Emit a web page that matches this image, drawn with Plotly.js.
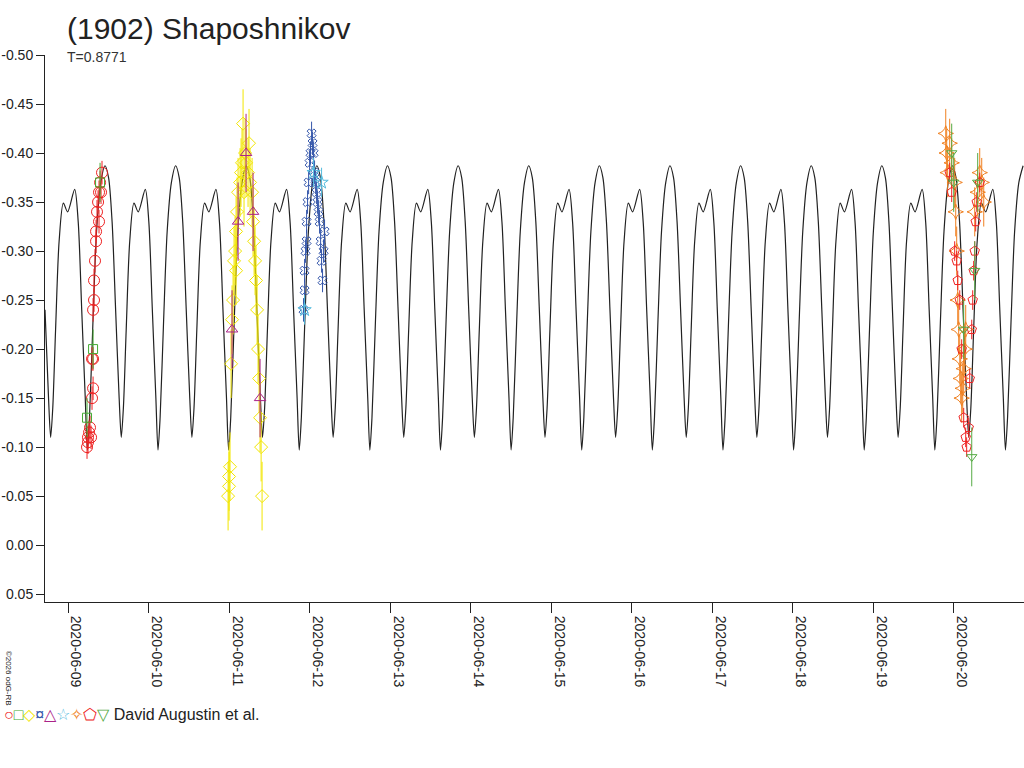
<!DOCTYPE html>
<html>
<head>
<meta charset="utf-8">
<script src="https://cdn.plot.ly/plotly-3.0.1.min.js"></script>
<style>body{margin:0;background:#fff}#chart{width:1024px;height:768px}</style>
</head>
<body>
<div id="chart"></div>
<script>
// model curve: one period shape, phase 0 = big maximum
var period = 0.8771;          // days
var epoch = 13.845;           // day of June 2020 of a big maximum
var shapePhase = [0, 0.05, 0.1, 0.15, 0.2, 0.23, 0.26, 0.3, 0.35, 0.41, 0.47, 0.57, 0.62, 0.67, 0.72, 0.75, 0.78, 0.83, 0.88, 0.94];
var shapeMag = [-0.387, -0.375, -0.33, -0.24, -0.15, -0.11, -0.14, -0.22, -0.31, -0.349, -0.340, -0.363, -0.33, -0.24, -0.15, -0.097, -0.13, -0.23, -0.32, -0.37];
var curveStart = 8.70, curveEnd = 20.90;

// observations: day of June 2020, magnitude
var redT = [9.236, 9.248, 9.261, 9.273, 9.248, 9.286, 9.298, 9.311, 9.298, 9.311, 9.311, 9.323, 9.323, 9.335, 9.348, 9.348, 9.360, 9.373, 9.385, 9.398, 9.410, 9.422, 9.385];
var redM = [-0.10, -0.11, -0.115, -0.12, -0.105, -0.11, -0.15, -0.16, -0.19, -0.19, -0.24, -0.25, -0.27, -0.29, -0.31, -0.32, -0.34, -0.35, -0.36, -0.37, -0.36, -0.38, -0.33];
var greenT = [9.236, 9.311, 9.398];
var greenM = [-0.13, -0.20, -0.37];
var yelT = [10.988, 11.0, 11.0, 11.012, 11.025, 11.037, 11.050, 11.062, 11.075, 11.087, 11.099, 11.112, 11.137, 11.149, 11.161, 11.174, 11.199, 11.211, 11.236, 11.248, 11.261, 11.286, 11.298, 11.311, 11.323, 11.335, 11.348, 11.360, 11.373, 11.385, 11.398, 11.410, 11.087, 11.186];
var yelM = [-0.05, -0.06, -0.07, -0.08, -0.185, -0.23, -0.25, -0.29, -0.30, -0.32, -0.34, -0.36, -0.37, -0.38, -0.39, -0.43, -0.40, -0.39, -0.38, -0.41, -0.37, -0.36, -0.33, -0.31, -0.29, -0.27, -0.24, -0.20, -0.17, -0.13, -0.10, -0.05, -0.28, -0.36];
var magT = [11.037, 11.112, 11.211, 11.298, 11.385];
var magM = [-0.22, -0.33, -0.40, -0.34, -0.15];
var blueT = [11.925, 11.938, 11.938, 11.950, 11.963, 11.963, 11.975, 11.988, 12.0, 12.012, 12.025, 12.037, 12.050, 12.062, 12.075, 12.087, 12.099, 12.112, 12.124, 12.137, 12.149, 12.161, 12.174, 12.186];
var blueM = [-0.24, -0.26, -0.28, -0.30, -0.31, -0.33, -0.35, -0.37, -0.39, -0.40, -0.42, -0.41, -0.40, -0.38, -0.37, -0.36, -0.35, -0.34, -0.33, -0.31, -0.29, -0.27, -0.30, -0.32];
var cyanT = [11.938, 12.050, 12.149];
var cyanM = [-0.24, -0.38, -0.37];
var orT = [19.901, 19.913, 19.925, 19.950, 19.975, 20.012, 20.025, 20.037, 20.050, 20.062, 20.075, 20.087, 20.099, 20.112, 20.124, 20.137, 20.149, 20.261, 20.298, 20.323, 20.348, 20.373];
var orM = [-0.42, -0.40, -0.38, -0.41, -0.39, -0.37, -0.34, -0.30, -0.25, -0.22, -0.19, -0.17, -0.15, -0.16, -0.18, -0.20, -0.22, -0.34, -0.36, -0.38, -0.37, -0.35];
var pentT = [19.950, 19.975, 20.012, 20.037, 20.050, 20.075, 20.099, 20.124, 20.149, 20.161, 20.186, 20.199, 20.224, 20.236, 20.248, 20.261, 20.273, 20.286, 20.323];
var pentM = [-0.38, -0.36, -0.30, -0.29, -0.27, -0.25, -0.20, -0.13, -0.11, -0.10, -0.12, -0.17, -0.22, -0.25, -0.28, -0.30, -0.33, -0.35, -0.37];
var gtriT = [19.975, 20.0, 20.124, 20.224, 20.261, 20.298];
var gtriM = [-0.40, -0.37, -0.22, -0.09, -0.28, -0.37];

var yTicks = [-0.50, -0.45, -0.40, -0.35, -0.30, -0.25, -0.20, -0.15, -0.10, -0.05, 0.00, 0.05];
var xTickDays = [9, 10, 11, 12, 13, 14, 15, 16, 17, 18, 19, 20];

function toDate(d) {
  return new Date(Date.UTC(2020, 5, 1) + (d - 1) * 86400000).toISOString().replace('Z', '');
}

var cx = [], cy = [];
var k0 = Math.floor((curveStart - epoch) / period) - 1;
var k1 = Math.ceil((curveEnd - epoch) / period) + 1;
for (var k = k0; k <= k1; k++) {
  for (var i = 0; i < shapePhase.length; i++) {
    var t = epoch + (k + shapePhase[i]) * period;
    if (t >= curveStart && t <= curveEnd) { cx.push(toDate(t)); cy.push(shapeMag[i]); }
  }
}

function obs(t, m, err, color, symbol, size) {
  return {
    x: t.map(toDate), y: m, mode: 'markers', type: 'scatter',
    marker: {symbol: symbol, color: color, size: size || 10, line: {color: color, width: 1}},
    error_y: {type: 'constant', value: err, color: color, thickness: 1, width: 0}
  };
}

var data = [
  {x: cx, y: cy, mode: 'lines', type: 'scatter', line: {color: '#222', width: 1.2, shape: 'spline', smoothing: 0.8}},
  obs(yelT, yelM, 0.035, '#f2e600', 'diamond-open', 10),
  obs(redT, redM, 0.012, '#ee2222', 'circle-open', 11),
  obs(greenT, greenM, 0.02, '#44aa33', 'square-open', 9),
  obs(magT, magM, 0.04, '#aa2288', 'triangle-up-open', 10),
  obs(blueT, blueM, 0.012, '#3355aa', 'x-open', 8),
  obs(cyanT, cyanM, 0.015, '#55bbdd', 'star-open', 10),
  obs(orT, orM, 0.025, '#f08020', 'star-diamond-open', 11),
  obs(pentT, pentM, 0.01, '#ee2222', 'pentagon-open', 10),
  obs(gtriT, gtriM, 0.03, '#55aa44', 'triangle-down-open', 9)
];

var layout = {
  width: 1024, height: 768, showlegend: false,
  paper_bgcolor: '#fff', plot_bgcolor: '#fff',
  margin: {l: 45, r: 0, t: 55, b: 166},
  font: {family: 'Liberation Sans, Arial', size: 14, color: '#222'},
  xaxis: {
    type: 'date', range: [toDate(8.714), toDate(20.873)],
    tickvals: xTickDays.map(toDate),
    ticktext: xTickDays.map(function (d) { return '2020-06-' + (d < 10 ? '0' + d : d); }),
    tickangle: 90, ticks: 'outside', ticklen: 10, tickcolor: '#222', ticklabelshift: 8,
    showgrid: false, zeroline: false, showline: true, linecolor: '#222',
    tickfont: {size: 14}
  },
  yaxis: {
    range: [0.058, -0.50],
    tickvals: yTicks,
    ticktext: yTicks.map(function (v) { return (v < 0 ? '-' : '') + Math.abs(v).toFixed(2); }),
    ticks: 'outside', ticklen: 8, tickcolor: '#222',
    showgrid: false, zeroline: false, showline: true, linecolor: '#222',
    tickfont: {size: 14}
  },
  annotations: [
    {text: '(1902) Shaposhnikov', xref: 'paper', yref: 'paper', x: 0.02, y: 1.0, yshift: 8,
     xanchor: 'left', yanchor: 'bottom', showarrow: false, font: {size: 30, color: '#222'}},
    {text: 'T=0.8771', xref: 'paper', yref: 'paper', x: 0.02, y: 1.0, yshift: -2, xanchor: 'left', yanchor: 'middle',
     showarrow: false, font: {size: 14, color: '#333'}},
    {text: '<span style="color:#ee2222">○</span><span style="color:#44aa33">□</span><span style="color:#f2e600">◇</span><span style="color:#3355aa">¤</span><span style="color:#aa2288">△</span><span style="color:#55bbdd">☆</span><span style="color:#f08020">✧</span><span style="color:#ee2222">⬠</span><span style="color:#55aa44">▽</span> David Augustin et al.',
     xref: 'paper', yref: 'paper', x: -0.044, y: -0.205, xanchor: 'left', yanchor: 'middle',
     showarrow: false, font: {size: 16, color: '#222'}},
    {text: '©2026 odG-RB', xref: 'paper', yref: 'paper', x: -0.037, y: -0.14, textangle: 90,
     xanchor: 'center', yanchor: 'middle', showarrow: false, font: {size: 8, color: '#222'}}
  ]
};

Plotly.newPlot('chart', data, layout, {staticPlot: true});
</script>
</body>
</html>
